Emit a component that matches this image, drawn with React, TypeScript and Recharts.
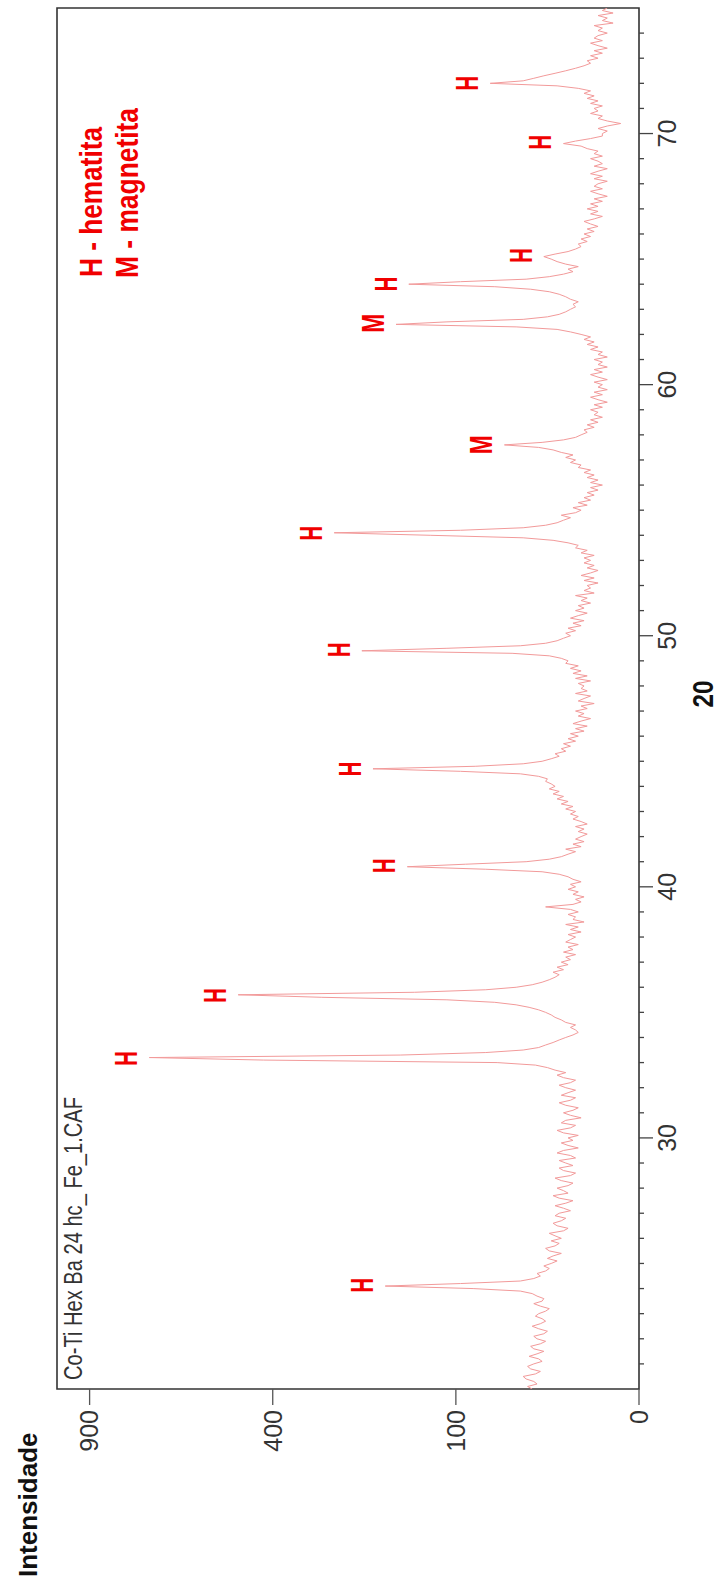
import React from 'react';
import {
  ComposedChart,
  Line,
  Scatter,
  XAxis,
  YAxis,
  ReferenceArea,
} from 'recharts';

// diffractogram sampled every 0.1 degree, 20.0 -> 75.0 (one row per degree)
const angleStart = 20;
const angleStep = 0.1;
const counts = [
  34, 37, 31, 33, 38, 40, 32, 29, 35, 37,
  33, 28, 30, 36, 31, 27, 33, 35, 29, 26,
  31, 33, 27, 25, 30, 34, 29, 26, 28, 32,
  30, 26, 24, 29, 33, 28, 27, 31, 34, 42,
  82, 192, 95, 42, 33, 29, 31, 26, 24, 27,
  23, 20, 25, 22, 18, 24, 26, 21, 19, 23,
  18, 21, 24, 17, 15, 20, 22, 18, 16, 21,
  19, 14, 17, 21, 16, 13, 19, 22, 15, 17,
  20, 15, 13, 18, 21, 14, 12, 17, 19, 13,
  16, 19, 12, 14, 20, 17, 11, 15, 18, 13,
  15, 11, 17, 20, 14, 12, 18, 16, 10, 14,
  17, 13, 11, 16, 19, 14, 12, 18, 15, 12,
  16, 19, 14, 12, 17, 20, 16, 21, 25, 32,
  60, 420, 715, 170, 70, 40, 30, 26, 22, 19,
  16, 13, 11, 12, 14, 12, 16, 18, 21, 23,
  26, 30, 36, 45, 62, 110, 300, 479, 150, 70,
  45, 34, 28, 24, 21, 19, 22, 17, 20, 15,
  18, 14, 16, 12, 17, 13, 15, 11, 16, 14,
  12, 15, 10, 14, 11, 16, 9, 13, 12, 15,
  11, 14, 26, 13, 10, 12, 9, 13, 11, 15,
  12, 14, 10, 13, 15, 19, 28, 70, 160, 90,
  38, 24, 18, 15, 12, 16, 10, 13, 9, 12,
  10, 8, 11, 9, 12, 8, 10, 13, 11, 14,
  12, 16, 13, 18, 15, 20, 17, 22, 19, 24,
  21, 23, 26, 25, 30, 42, 95, 211, 80, 40,
  28, 23, 19, 21, 16, 18, 14, 17, 12, 15,
  11, 14, 9, 12, 8, 13, 10, 7, 11, 9,
  12, 8, 10, 6, 11, 9, 7, 12, 8, 10,
  9, 11, 7, 12, 8, 13, 10, 14, 11, 16,
  15, 18, 24, 48, 229, 110, 42, 26, 20, 17,
  14, 16, 12, 15, 10, 13, 9, 14, 11, 8,
  12, 9, 11, 7, 10, 8, 12, 6, 9, 7,
  8, 5, 9, 6, 10, 7, 5, 8, 6, 9,
  7, 9, 6, 10, 8, 12, 11, 15, 22, 40,
  130, 277, 95, 40, 26, 20, 17, 14, 18, 12,
  10, 13, 8, 11, 7, 9, 6, 8, 5, 7,
  4, 7, 5, 8, 6, 9, 7, 11, 10, 14,
  12, 16, 13, 18, 22, 30, 54, 28, 17, 12,
  10, 8, 9, 6, 8, 5, 7, 4, 6, 5,
  7, 4, 6, 3, 5, 7, 4, 6, 3, 5,
  4, 6, 3, 5, 7, 4, 6, 3, 5, 4,
  6, 3, 5, 4, 7, 5, 8, 6, 9, 7,
  10, 14, 20, 45, 176, 110, 40, 25, 19, 16,
  14, 12, 13, 11, 14, 16, 19, 24, 35, 62,
  158, 95, 38, 24, 17, 13, 15, 11, 16, 20,
  23, 27, 21, 15, 12, 10, 11, 8, 10, 7,
  9, 6, 8, 5, 7, 9, 6, 4, 7, 5,
  8, 5, 7, 4, 6, 3, 5, 7, 4, 6,
  5, 3, 6, 4, 7, 5, 3, 6, 4, 5,
  7, 4, 6, 5, 8, 10, 17, 12, 7, 4,
  4, 3, 5, 3, 1, 3, 5, 4, 7, 5,
  6, 4, 7, 5, 8, 6, 9, 7, 11, 20,
  66, 40, 33, 27, 21, 16, 12, 9, 7, 8,
  5, 7, 4, 6, 3, 5, 7, 4, 6, 5,
  3, 5, 4, 6, 2, 4, 3, 5, 2, 4,
  3,
];

// labelled reflections
const peakAngles = [24.13, 33.16, 35.67, 40.84, 44.69, 49.44, 54.08, 57.61, 62.44, 64.01, 65.14, 69.65, 72.0];
const peakHeights = [192, 715, 479, 160, 211, 229, 277, 54, 176, 158, 27, 17, 66];
const peakPhases = ['H', 'H', 'H', 'H', 'H', 'H', 'H', 'M', 'M', 'H', 'H', 'H', 'H'];

const angleTicks = [
  21, 22, 23, 24, 25, 26, 27, 28, 29, 30, 31, 32, 33, 34, 35, 36, 37, 38, 39, 40,
  41, 42, 43, 44, 45, 46, 47, 48, 49, 50, 51, 52, 53, 54, 55, 56, 57, 58, 59, 60,
  61, 62, 63, 64, 65, 66, 67, 68, 69, 70, 71, 72, 73, 74,
];
const angleLabels = [30, 40, 50, 60, 70];
const intensityTicks = [0, 100, 400, 900];

const legendLines = ['H - hematita', 'M - magnetita'];
const sampleName = 'Co-Ti Hex Ba 24 hc_ Fe_1.CAF';

const W = 1582;
const H = 718;
const FONT = "'Liberation Sans', Arial, sans-serif";
const RED = '#f00000';

const pattern = counts.map((c, i) => ({
  tt: Math.round((angleStart + i * angleStep) * 100) / 100,
  c,
}));

const peaks = peakAngles.map((tt, i) => ({
  tt,
  c: peakHeights[i],
  phase: peakPhases[i],
}));

function AngleTick(props: any) {
  const { x, y, payload } = props;
  const v = payload.value;
  const major = angleLabels.includes(v);
  return (
    <g>
      <line x1={x} x2={x} y1={y} y2={y + (major ? 14 : 5)} stroke="#444" strokeWidth={1.3} />
      {major && (
        <text
          x={x}
          y={y + 19}
          dy="0.71em"
          textAnchor="middle"
          fontSize={25}
          fontFamily={FONT}
          fill="#333"
        >
          {v}
        </text>
      )}
    </g>
  );
}

function PeakMark(props: any) {
  const { cx, cy, payload } = props;
  if (cx == null || cy == null) return null;
  const isM = payload.phase === 'M';
  return (
    <text
      x={cx}
      y={cy - 12}
      textAnchor="middle"
      fontSize={31}
      fontWeight="bold"
      fontFamily={FONT}
      fill={RED}
      textLength={isM ? 19 : 15}
      lengthAdjust="spacingAndGlyphs"
    >
      {payload.phase}
    </text>
  );
}

export default function App() {
  return (
    <div
      style={{
        position: 'absolute',
        left: 0,
        top: 0,
        width: H,
        height: W,
        overflow: 'hidden',
        background: '#fff',
      }}
    >
      <div
        style={{
          position: 'absolute',
          left: 0,
          top: 0,
          width: W,
          height: H,
          transformOrigin: '0 0',
          transform: `translate(0px, ${W}px) rotate(-90deg)`,
        }}
      >
        <ComposedChart
          width={W}
          height={H}
          data={pattern}
          margin={{ top: 57, right: 8, bottom: 0, left: 0 }}
        >
          <XAxis
            type="number"
            dataKey="tt"
            domain={[20, 75]}
            ticks={angleTicks}
            interval={0}
            allowDataOverflow
            axisLine={false}
            tickLine={false}
            tickSize={0}
            tickMargin={0}
            height={79}
            tick={<AngleTick />}
          />
          <YAxis
            type="number"
            scale="sqrt"
            domain={[0, 1010]}
            ticks={intensityTicks}
            interval={0}
            allowDataOverflow
            axisLine={false}
            tickLine={{ stroke: '#555', strokeWidth: 1.3 }}
            tickSize={16}
            tickMargin={5}
            width={193}
            tick={{ fontSize: 25, fill: '#333', fontFamily: FONT }}
          />
          <ReferenceArea
            x1={20}
            x2={75}
            y1={0}
            y2={1010}
            fill="none"
            fillOpacity={0}
            stroke="#333"
            strokeWidth={1.6}
            ifOverflow="visible"
          />
          <Line
            type="linear"
            dataKey="c"
            stroke="#f29a9a"
            strokeWidth={1}
            dot={false}
            activeDot={false}
            isAnimationActive={false}
          />
          <Scatter
            data={peaks}
            dataKey="c"
            shape={<PeakMark />}
            isAnimationActive={false}
            legendType="none"
          />
        </ComposedChart>
        <svg
          width={W}
          height={H}
          style={{ position: 'absolute', left: 0, top: 0, pointerEvents: 'none' }}
        >
          <text x={5} y={37} fontSize={26} fontWeight="bold" fontFamily={FONT} fill="#111">
            Intensidade
          </text>
          <text
            x={202}
            y={81.5}
            fontSize={26}
            fontFamily={FONT}
            fill="#333"
            textLength={283}
            lengthAdjust="spacingAndGlyphs"
          >
            {sampleName}
          </text>
          <text
            x={1305}
            y={101.5}
            fontSize={32}
            fontWeight="bold"
            fontFamily={FONT}
            fill={RED}
            textLength={150}
            lengthAdjust="spacingAndGlyphs"
          >
            {legendLines[0]}
          </text>
          <text
            x={1304}
            y={137.5}
            fontSize={32}
            fontWeight="bold"
            fontFamily={FONT}
            fill={RED}
            textLength={170}
            lengthAdjust="spacingAndGlyphs"
          >
            {legendLines[1]}
          </text>
          <text
            x={888}
            y={713}
            textAnchor="middle"
            fontSize={30}
            fontWeight="bold"
            fontFamily={FONT}
            fill="#111"
            textLength={27}
            lengthAdjust="spacingAndGlyphs"
          >
            20
          </text>
        </svg>
      </div>
    </div>
  );
}
